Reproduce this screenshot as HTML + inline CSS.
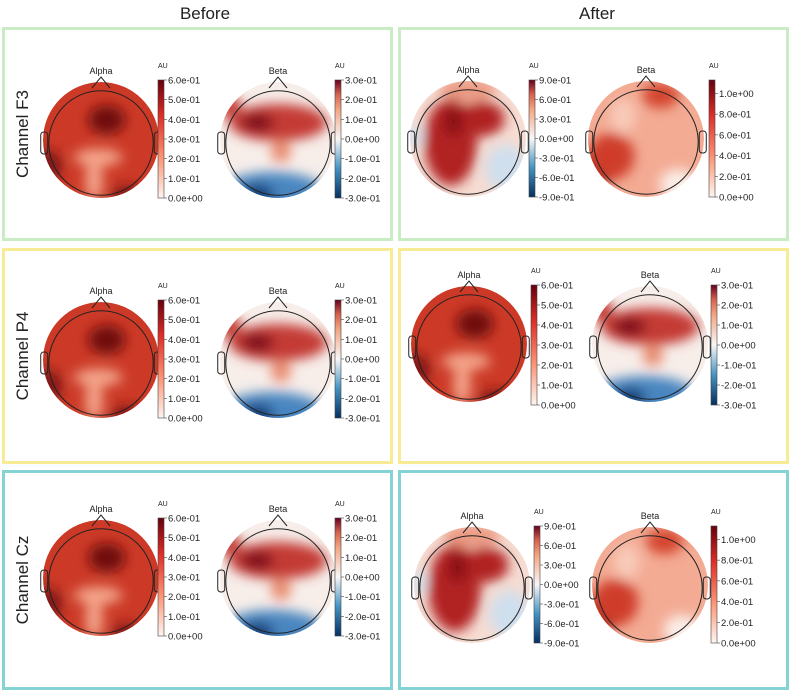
<!DOCTYPE html>
<html><head><meta charset="utf-8"><style>
body{margin:0;background:#fff;width:792px;height:694px;overflow:hidden;font-family:"Liberation Sans",sans-serif}
</style></head><body>
<svg id="fig" width="792" height="694" viewBox="0 0 792 694" xmlns="http://www.w3.org/2000/svg">
<defs>
<filter id="blur" x="-50%" y="-50%" width="200%" height="200%"><feGaussianBlur stdDeviation="6"/></filter>
<linearGradient id="reds" x1="0" y1="1" x2="0" y2="0"><stop offset="0" stop-color="#fff5f0"/><stop offset="0.35" stop-color="#fc9272"/><stop offset="0.7" stop-color="#de2d26"/><stop offset="1" stop-color="#67000d"/></linearGradient>
<linearGradient id="rdbu" x1="0" y1="1" x2="0" y2="0"><stop offset="0" stop-color="#053061"/><stop offset="0.25" stop-color="#4393c3"/><stop offset="0.5" stop-color="#f7f7f7"/><stop offset="0.75" stop-color="#f4a582"/><stop offset="0.88" stop-color="#d6604d"/><stop offset="1" stop-color="#67001f"/></linearGradient>
</defs>
<text x="205" y="19" font-size="17" text-anchor="middle" fill="#222">Before</text>
<text x="597" y="19" font-size="17" text-anchor="middle" fill="#222">After</text>
</svg>
<script>
const svg=document.getElementById('fig');
const NS='http://www.w3.org/2000/svg';
// Data
const rowLabels=['Channel F3','Channel P4','Channel Cz'];
const rowColors=['#c9ecc4','#f7ec94','#86d3d6'];
const alphaBeforeTicks=['0.0e+00','1.0e-01','2.0e-01','3.0e-01','4.0e-01','5.0e-01','6.0e-01'];
const alphaBeforeVals=[0,0.1,0.2,0.3,0.4,0.5,0.6];
const betaBeforeTicks=['-3.0e-01','-2.0e-01','-1.0e-01','0.0e+00','1.0e-01','2.0e-01','3.0e-01'];
const betaBeforeVals=[-0.3,-0.2,-0.1,0,0.1,0.2,0.3];
const alphaAfterTicks=['-9.0e-01','-6.0e-01','-3.0e-01','0.0e+00','3.0e-01','6.0e-01','9.0e-01'];
const alphaAfterVals=[-0.9,-0.6,-0.3,0,0.3,0.6,0.9];
const betaAfterTicks=['0.0e+00','2.0e-01','4.0e-01','6.0e-01','8.0e-01','1.0e+00'];
const betaAfterVals=[0,0.2,0.4,0.6,0.8,1.0];

function el(tag,attrs,parent){const e=document.createElementNS(NS,tag);for(const k in attrs)e.setAttribute(k,attrs[k]);(parent||svg).appendChild(e);return e;}
function txt(x,y,s,size,anchor,parent){const t=el('text',{x:x,y:y,'font-size':size,'text-anchor':anchor||'start',fill:'#222'},parent);t.textContent=s;return t;}

const maps={
 alphaB:{base:'#cc3a27',blobs:[[0.1,-0.35,0.32,0.25,'#701010'],[-0.05,0.3,0.42,0.15,'#f4a68c'],[-0.12,0.7,0.15,0.35,'#f4a68c'],[-0.95,0.45,0.28,0.28,'#7e1612'],[0.45,0.95,0.28,0.16,'#7e1612']]},
 betaB:{base:'#f7eeea',blobs:[[0,-0.3,0.85,0.32,'#c43a36'],[-0.35,-0.3,0.28,0.16,'#7e0c1c'],[0.05,0.2,0.18,0.18,'#e88a6e'],[-0.1,0.9,0.9,0.35,'#4a86c0'],[-0.35,0.95,0.28,0.2,'#173f7a'],[-0.85,-0.6,0.2,0.2,'#c43a36']]},
 alphaA:{base:'#f6dcd2',blobs:[[-0.3,0.05,0.45,0.75,'#b12222'],[0.25,-0.35,0.38,0.3,'#b12222'],[-0.25,-0.3,0.15,0.25,'#861018'],[0.65,0.5,0.35,0.4,'#cfdfee'],[-0.95,-0.05,0.16,0.18,'#d6e4f1'],[0.0,-0.85,0.5,0.2,'#ec9a82']]},
 betaA:{base:'#f3ab94',blobs:[[-0.85,0.5,0.32,0.32,'#6e0e0e'],[-0.6,0.3,0.4,0.4,'#cf3e2a'],[0.25,-0.75,0.32,0.22,'#d4452f'],[0.55,0.78,0.32,0.26,'#fbeee8'],[-0.4,-0.4,0.22,0.3,'#f8cbb9']]}
};
let uid=0;
function topo(cx,cy,r,key,title,grad,vals,ticks,vmin,vmax,cbx,cby,cbh,name){
 const g=el('g',{});
 
 
 const id='c'+(uid++);
 const cp=el('clipPath',{id:id},g);el('circle',{cx:cx,cy:cy,r:r},cp);
 const inner=el('g',{'clip-path':'url(#'+id+')'},g);
 const m=maps[key];
 el('circle',{cx:cx,cy:cy,r:r,fill:m.base},inner);
 const bg=el('g',{filter:'url(#blur)'},inner);
 m.blobs.forEach(b=>el('ellipse',{cx:cx+b[0]*r,cy:cy+b[1]*r,rx:b[2]*r,ry:b[3]*r,fill:b[4]},bg));
 el('circle',{cx:cx,cy:cy+3,r:r*0.9,fill:'none',stroke:'#222','stroke-width':1},g);
 el('path',{d:`M${cx-9} ${cy-r+6} L${cx} ${cy-r-5} L${cx+9} ${cy-r+6}`,fill:'none',stroke:'#222','stroke-width':1},g);
 el('rect',{x:cx-r*0.97-4,y:cy-8,width:7,height:22,rx:3,fill:'none',stroke:'#222','stroke-width':1},g);
 el('rect',{x:cx+r*0.97-3,y:cy-8,width:7,height:22,rx:3,fill:'none',stroke:'#222','stroke-width':1},g);
 txt(cx,cy-r-8,title,9,'middle',g);
 const cb=el('rect',{x:cbx,y:cby,width:6,height:cbh,fill:'url(#'+grad+')',stroke:'#444','stroke-width':0.6},g);
 
 
 txt(cbx,cby-12,'AU',7,'start',g);
 vals.forEach((v,i)=>{const y=cby+cbh-(v-vmin)/(vmax-vmin)*cbh;
  el('line',{x1:cbx+6,x2:cbx+9,y1:y,y2:y,stroke:'#444','stroke-width':0.6},g);
  const t=txt(cbx+10,y+3.5,ticks[i],9.5,'start',g);
  
  
 });
}
const rowsY=[[27,241],[248,464],[470,690]];
rowsY.forEach((ry,i)=>{
 const b1=el('rect',{x:3.5,y:ry[0]+1.5,width:388,height:ry[1]-ry[0]-3,fill:'none',stroke:rowColors[i],'stroke-width':3});
 
 
 const b2=el('rect',{x:399.5,y:ry[0]+1.5,width:388,height:ry[1]-ry[0]-3,fill:'none',stroke:rowColors[i],'stroke-width':3});
 
 
 const my=(ry[0]+ry[1])/2;
 const lab=txt(0,0,rowLabels[i],17,'middle');
 lab.setAttribute('transform',`translate(28 ${my}) rotate(-90)`);
 
 
 const cyB=i===1?360:(i===2?578:140);
 topo(101,cyB,58,'alphaB','Alpha','reds',alphaBeforeVals,alphaBeforeTicks,0,0.6,158,cyB-60,118,'alpha-before-map');
 topo(278,cyB,58,'betaB','Beta','rdbu',betaBeforeVals,betaBeforeTicks,-0.3,0.3,335,cyB-60,118,'beta-before-map');
 if(i===1){
  topo(469,344,58,'alphaB','Alpha','reds',alphaBeforeVals,alphaBeforeTicks,0,0.6,531,285,120,'alpha-after-map');
  topo(650,344,58,'betaB','Beta','rdbu',betaBeforeVals,betaBeforeTicks,-0.3,0.3,711,285,120,'beta-after-map');
 } else {
  const c=i===0?139:585, top=i===0?80:526;
  topo(i===0?468:472,c,58,'alphaA','Alpha','rdbu',alphaAfterVals,alphaAfterTicks,-0.9,0.9,i===0?529:534,top,117,'alpha-after-map');
  topo(i===0?646:650,c,58,'betaA','Beta','reds',betaAfterVals,betaAfterTicks,0,1.13,i===0?709:711,top,117,'beta-after-map');
 }
});
</script>
</body></html>
